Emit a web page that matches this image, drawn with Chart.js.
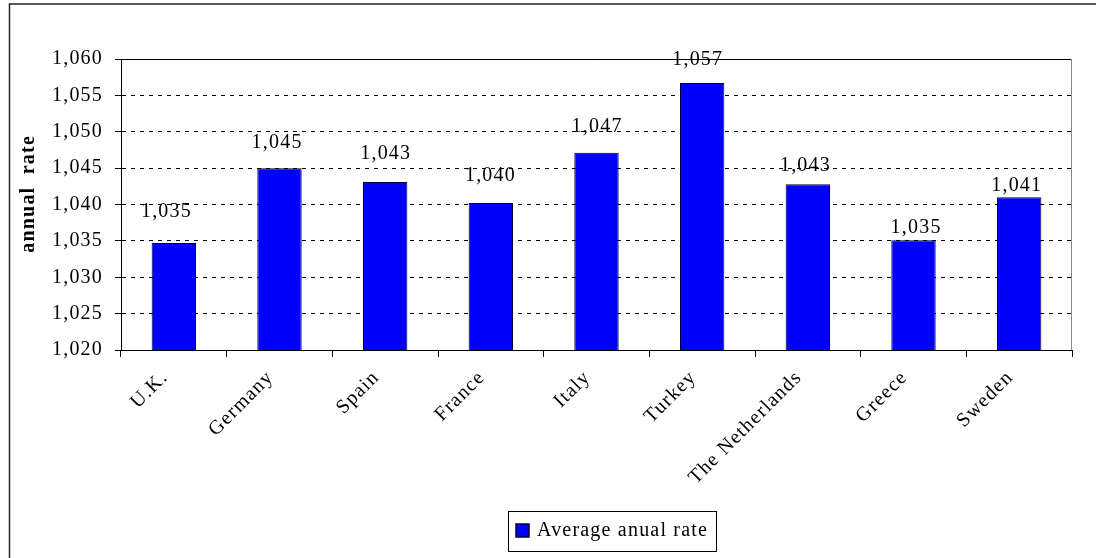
<!DOCTYPE html>
<html>
<head>
<meta charset="utf-8">
<script src="https://cdn.jsdelivr.net/npm/chart.js@4.4.1/dist/chart.umd.min.js"></script>
<style>
  html, body { margin: 0; padding: 0; background: #fff; }
  #wrap { width: 1096px; height: 558px; position: relative; }
</style>
</head>
<body>
<div id="wrap"><canvas id="chart" width="1096" height="558"></canvas></div>
<script>
// Countries and their average annual rate
const countries = ['U.K.', 'Germany', 'Spain', 'France', 'Italy', 'Turkey', 'The Netherlands', 'Greece', 'Sweden'];
const averageRate = [1.0347, 1.0450, 1.0431, 1.0402, 1.0471, 1.0567, 1.0428, 1.0351, 1.0410];
const seriesName = 'Average anual rate';
const axisTitle = 'annual  rate';
const yTicks = { min: 1.020, max: 1.060, step: 0.005 };

// Hand-placed value label nudges (pixels): horizontal shift and gap above the bar
const labelShiftX = [-8, -3, 0, -1, 0, -5, -3, 2, -3];
const labelGapY = [31, 25, 28, 27, 26, 23, 18, 12, 11];

const SERIF = "'Liberation Serif', 'Times New Roman', serif";
const SPACING = '1.2px';
const FS = 20;

const fmt = v => v.toFixed(3).replace('.', ',');

const applySpacing = chart => { chart.ctx.letterSpacing = SPACING; };

const decorations = {
  id: 'decorations',
  beforeUpdate: applySpacing,
  beforeLayout: applySpacing,
  beforeDraw(chart) {
    applySpacing(chart);
    const ctx = chart.ctx;
    ctx.save();
    ctx.fillStyle = '#fff';
    ctx.fillRect(0, 0, chart.width, chart.height);
    // outer frame (left and top edges)
    ctx.strokeStyle = '#222';
    ctx.lineWidth = 1.5;
    ctx.beginPath();
    ctx.moveTo(9.5, chart.height);
    ctx.lineTo(9.5, 4);
    ctx.lineTo(chart.width, 4);
    ctx.stroke();
    ctx.restore();
  },
  afterDatasetsDraw(chart) {
    const ctx = chart.ctx;
    const a = chart.chartArea;
    ctx.save();
    ctx.letterSpacing = SPACING;
    // plot frame: solid top, grey right
    ctx.lineWidth = 1;
    ctx.strokeStyle = '#000';
    ctx.beginPath();
    ctx.moveTo(a.left, a.top + 0.5);
    ctx.lineTo(a.right, a.top + 0.5);
    ctx.stroke();
    ctx.strokeStyle = '#888';
    ctx.beginPath();
    ctx.moveTo(a.right - 0.5, a.top);
    ctx.lineTo(a.right - 0.5, a.bottom);
    ctx.stroke();

    // value labels
    const meta = chart.getDatasetMeta(0);
    const data = chart.data.datasets[0].data;
    ctx.font = FS + 'px ' + SERIF;
    ctx.fillStyle = '#000';
    ctx.textAlign = 'center';
    ctx.textBaseline = 'middle';
    meta.data.forEach((bar, i) => {
      ctx.fillText(fmt(data[i]), bar.x + labelShiftX[i] + 0.6, bar.y - labelGapY[i]);
    });

    // y-axis title
    ctx.save();
    ctx.translate(29, (a.top + a.bottom) / 2 - 10);
    ctx.rotate(-Math.PI / 2);
    ctx.font = 'bold ' + FS + 'px ' + SERIF;
    ctx.fillText(axisTitle, 0.6, 0);
    ctx.restore();

    // legend
    const ds = chart.data.datasets[0];
    const lx = 508.5, ly = 511.5, lw = 208, lh = 40;
    ctx.strokeStyle = '#000';
    ctx.lineWidth = 1;
    ctx.strokeRect(lx, ly, lw, lh);
    ctx.fillStyle = ds.backgroundColor;
    ctx.fillRect(516, 524, 13, 13);
    ctx.strokeStyle = '#000040';
    ctx.lineWidth = 1.5;
    ctx.strokeRect(516, 524, 13, 13);
    ctx.fillStyle = '#000';
    ctx.textAlign = 'left';
    ctx.fillText(ds.label, 537, 531);
    ctx.restore();
  }
};

new Chart(document.getElementById('chart'), {
  type: 'bar',
  data: {
    labels: countries,
    datasets: [{
      label: seriesName,
      data: averageRate,
      backgroundColor: '#0000FF',
      borderColor: '#000033',
      borderWidth: 1,
      categoryPercentage: 1,
      barPercentage: 0.42
    }]
  },
  options: {
    responsive: false,
    animation: false,
    devicePixelRatio: 1,
    layout: { padding: { top: 59, right: 24, left: 0, bottom: 0 } },
    plugins: {
      legend: { display: false },
      tooltip: { enabled: false }
    },
    scales: {
      x: {
        offset: true,
        grid: { display: true, drawOnChartArea: false, drawTicks: true, tickLength: 7, tickColor: '#000', offset: true },
        border: { display: true, color: '#000', width: 1 },
        ticks: {
          color: '#000',
          font: { family: SERIF, size: FS },
          maxRotation: 45, minRotation: 45,
          padding: 9,
          labelOffset: -9,
          autoSkip: false
        },
        afterFit(scale) { scale.height = 208; }
      },
      y: {
        min: yTicks.min,
        max: yTicks.max,
        grid: { color: '#000', lineWidth: 1, drawTicks: true, tickLength: 6, tickColor: '#000', tickBorderDash: [] },
        border: { display: true, color: '#000', width: 1, dash: [4, 5] },
        ticks: {
          stepSize: yTicks.step,
          color: '#000',
          font: { family: SERIF, size: FS },
          padding: 12,
          callback: v => fmt(v)
        },
        afterFit(scale) { scale.width = 121; }
      }
    }
  },
  plugins: [decorations]
});
</script>
</body>
</html>
